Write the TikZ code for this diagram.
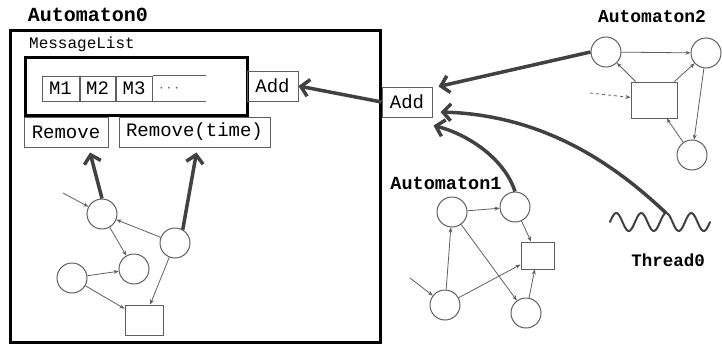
\documentclass[tikz,border=0pt]{standalone}
\usepackage{fontspec}
\setmonofont{Liberation Mono}
\usetikzlibrary{arrows.meta, positioning, calc}
\definecolor{edgegray}{RGB}{95, 95, 95}
\definecolor{flowgray}{RGB}{65, 65, 65}

\begin{document}
\begin{tikzpicture}[
    x=1pt, y=-1pt,
    font=\ttfamily,
    % Styles
    automatonbox/.style={
        rectangle,
        draw=black,
        line width=3pt,
        inner sep=0pt
    },
    opbox/.style={
        rectangle,
        draw=edgegray,
        line width=1pt,
        minimum height=30pt,
        inner sep=0pt,
        font=\ttfamily\fontsize{19}{21}\selectfont
    },
    cell/.style={
        rectangle,
        draw=edgegray,
        line width=1pt,
        minimum width=36pt,
        minimum height=25pt,
        inner sep=0pt,
        font=\ttfamily\fontsize{19}{21}\selectfont
    },
    state/.style={
        circle,
        draw=edgegray,
        line width=1pt,
        minimum size=30pt,
        inner sep=0pt
    },
    action/.style={
        rectangle,
        draw=edgegray,
        line width=1pt,
        inner sep=0pt
    },
    trans/.style={
        -{Stealth[length=5pt,width=4pt]},
        draw=edgegray,
        line width=0.8pt
    },
    flow/.style={
        -{Straight Barb[length=8pt,width=17pt]},
        draw=flowgray,
        line width=3.5pt
    },
    titletext/.style={
        font=\ttfamily\bfseries\fontsize{18}{20}\selectfont
    }
]
\useasboundingbox (0,0) rectangle (722,345);

% --- Automaton0 with its message list ---
\node (auto0title) [titletext, font=\ttfamily\bfseries\fontsize{20}{22}\selectfont] at (88,15) {Automaton0};
\node (auto0) [automatonbox, minimum width=370pt, minimum height=311pt] at (195,186.5) {};
\node (msgtitle) [font=\ttfamily\fontsize{16}{18}\selectfont] at (82,44) {MessageList};
\node (msglist) [automatonbox, minimum width=222pt, minimum height=57pt] at (136,86.5) {};

% Message cells
\node (m1) [cell, minimum width=37pt] at (60.5,88.5) {M1};
\node (m2) [cell, minimum width=35pt, right=0pt of m1] {M2};
\node (m3) [cell, right=0pt of m2] {M3};
\node (mdots) [text=edgegray, font=\fontsize{17}{19}\selectfont, right=3pt of m3] {$\cdots$};
\draw [edgegray, line width=1pt] (m3.north east) -- ++(53,0);
\draw [edgegray, line width=1pt] (m3.south east) -- ++(53,0);

% Operations
\node (addin) [opbox, minimum width=51pt] at (272.5,86) {Add};
\node (remove) [opbox, minimum width=84pt] at (66,132) {Remove};
\node (removet) [opbox, minimum width=151pt] at (194.5,132) {Remove(time)};
\node (addout) [opbox, minimum width=50pt] at (407,102) {Add};

% States of Automaton0
\node (a0s1) [state] at (102,214) {};
\node (a0s2) [state] at (175,243) {};
\node (a0s3) [state] at (134,269) {};
\node (a0s4) [state] at (72,278) {};
\node (a0act) [action, minimum width=38pt, minimum height=30pt] at (144,320) {};
\coordinate (a0in) at (63,193);

\draw [trans] (a0in) -- (a0s1);
\draw [trans] (a0s2) -- (a0s1);
\draw [trans] (a0s1) -- (a0s3);
\draw [trans] (a0s4) -- (a0s3);
\draw [trans] (a0s4) -- (a0act);
\draw [trans] (a0s2) -- (a0act);

% --- Automaton1 ---
\node (auto1title) [titletext, font=\ttfamily\bfseries\fontsize{18.5}{20}\selectfont] at (446,183) {Automaton1};
\node (a1s1) [state] at (452,212) {};
\node (a1s2) [state] at (515,207) {};
\node (a1act) [action, minimum width=33pt, minimum height=27pt] at (537.5,255.5) {};
\node (a1s3) [state] at (445,305) {};
\node (a1s4) [state] at (526,313) {};
\coordinate (a1in) at (410,278);

\draw [trans] (a1in) -- (a1s3);
\draw [trans] (a1s1) -- (a1s2);
\draw [trans] (a1s2) -- (a1act);
\draw [trans] (a1s3) -- (a1s1);
\draw [trans] (a1s3) -- (a1act);
\draw [trans] (a1s1) -- (a1s4);
\draw [trans] (a1s4) -- (a1act);

% --- Automaton2 ---
\node (auto2title) [titletext] at (652,17) {Automaton2};
\node (a2s1) [state] at (606,52) {};
\node (a2s2) [state] at (706,53) {};
\node (a2act) [action, minimum width=46pt, minimum height=36pt] at (654,100) {};
\node (a2s3) [state] at (692,155) {};
\coordinate (a2in) at (590,93);

\draw [trans, dashed] (a2in) -- (a2act);
\draw [trans] (a2s1) -- (a2s2);
\draw [trans] (a2act) -- (a2s1);
\draw [trans] (a2act) -- (a2s2);
\draw [trans] (a2s2) -- (a2s3);
\draw [trans] (a2s3) -- (a2act);

% --- Thread0 ---
\draw [flowgray, line width=2pt, line cap=round]
    plot [domain=0:4, samples=90, smooth] ({610+25*\x}, {222-9*sin(360*\x)});
\coordinate (wavetop) at (666,213);
\node (thread0) [titletext, font=\ttfamily\bfseries\fontsize{17.5}{20}\selectfont] at (668,260) {Thread0};

% --- Message flow ---
\draw [flow] (addout.west) -- (addin.east);
\draw [flow] (a2s1.west) -- ([xshift=6pt]addout.north east);
\draw [flow] (wavetop) .. controls (610,160) and (540,115) .. ([xshift=8pt,yshift=-10pt]addout.east);
\draw [flow] (a1s2.north) .. controls (505,160) and (470,135) .. ([xshift=1pt,yshift=-8pt]addout.south east);
\draw [flow] (a0s1.north) -- ([xshift=24pt,yshift=-5pt]remove.south);
\draw [flow] (a0s2.60) -- ([xshift=2pt,yshift=-5pt]removet.south);

\end{tikzpicture}
\end{document}
